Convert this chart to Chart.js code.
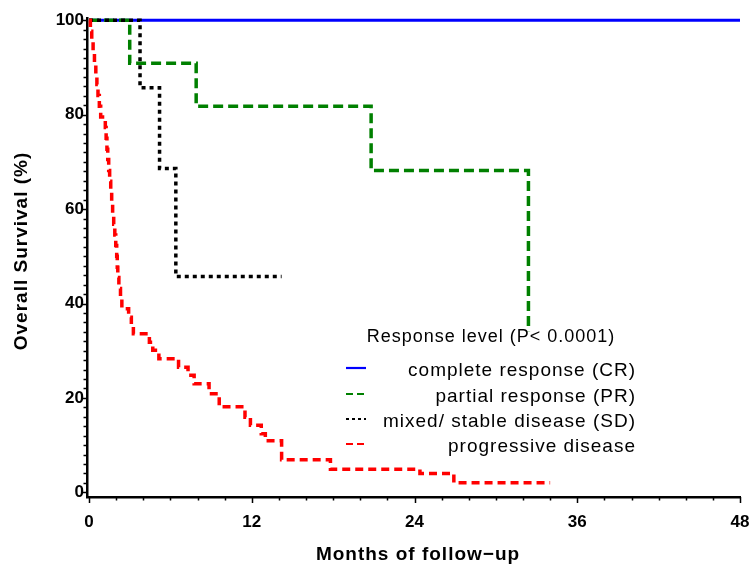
<!DOCTYPE html>
<html><head><meta charset="utf-8">
<script src="https://cdn.jsdelivr.net/npm/chart.js@4"></script>
<style>html,body{margin:0;padding:0;background:#fff;}#wrap{width:752px;height:567px;}</style>
</head><body><div id="wrap"><canvas id="c" width="752" height="567"></canvas></div>
<script>
// ---- data ----
const crTimes = [0, 48];
const crSurv  = [100, 100];
const prTimes = [0, 3.0, 7.9, 20.8, 32.4];
const prSurv  = [100, 90.9, 81.8, 68.2, 34.1];
const sdTimes = [0, 3.76, 5.2, 6.4, 14.2];
const sdSurv  = [100, 85.7, 68.6, 45.7, 45.7];
const pdTimes = [0,0.1,0.2,0.3,0.4,0.5,0.58,0.66,0.76,0.86,1.2,1.26,1.32,1.38,1.45,1.52,1.6,1.67,1.74,1.82,1.9,1.97,2.04,2.08,2.12,2.2,2.32,2.42,2.92,3.12,3.27,4.45,4.7,5.15,6.6,7.3,7.75,8.85,9.6,11.5,11.9,12.7,13.0,14.2,17.8,24.4,26.9,34.0];
const pdSurv  = [100,97.7,95.5,93.2,90.9,88.6,86.4,84.1,81.8,79.5,77.3,75.0,72.7,70.5,68.2,65.9,63.6,61.4,59.1,56.8,54.5,52.3,50.0,47.7,45.5,43.2,40.9,38.9,37.1,35.4,33.6,31.8,30.1,28.3,26.5,24.8,23.0,20.9,18.1,15.9,14.2,12.4,10.9,6.9,4.9,4.0,2.0,2.0];
const xTickValues = [0, 12, 24, 36, 48];
const yTickValues = [0, 20, 40, 60, 80, 100];
const seriesNames = ['complete response (CR)', 'partial response (PR)', 'mixed/ stable disease (SD)', 'progressive disease'];
const legendTitle = 'Response level (P< 0.0001)';
const xTitle = 'Months of follow\u2212up';
const yTitle = 'Overall Survival (%)';

const pts = (t, s) => t.map((v, i) => ({x: v, y: s[i]}));
const colors = ['#0000ff', '#008000', '#000000', '#ff0000'];
const dashes = [[], [10, 5], [4, 4], [8, 5]];
const sample = [[], [7, 4], [3, 3], [7, 4]];

const extras = {
  id: 'extras',
  afterDraw(chart) {
    const ctx = chart.ctx, xs = chart.scales.x, ys = chart.scales.y;
    ctx.save();
    ctx.strokeStyle = '#000'; ctx.lineWidth = 1.5;
    ctx.beginPath();
    for (let v = 0; v <= 48; v += 2) {
      const px = Math.round(xs.getPixelForValue(v)) + 0.5;
      const len = v % 12 === 0 ? 6 : 3.5;
      ctx.moveTo(px, xs.top); ctx.lineTo(px, xs.top + len);
    }
    for (let v = 0; v <= 100; v += 2) {
      const py = Math.round(ys.getPixelForValue(v)) + 0.5;
      const len = v % 20 === 0 ? 6 : 3.5;
      ctx.moveTo(ys.right, py); ctx.lineTo(ys.right - len, py);
    }
    ctx.stroke();
    // axis titles
    ctx.fillStyle = '#000';
    ctx.font = 'bold 19px "Liberation Sans", Arial, sans-serif';
    ctx.letterSpacing = '1px';
    ctx.textAlign = 'center'; ctx.textBaseline = 'middle';
    ctx.fillText(xTitle, 418, 555);
    ctx.save();
    ctx.translate(22, 251); ctx.rotate(-Math.PI / 2);
    ctx.fillText(yTitle, 0, 0);
    ctx.restore();
    // legend
    ctx.font = '18px "Liberation Sans", Arial, sans-serif';
    ctx.letterSpacing = '1px';
    ctx.fillText(legendTitle, 491, 337);
    ctx.font = '19px "Liberation Sans", Arial, sans-serif';
    const rowsY = [368, 394, 419, 444];
    seriesNames.forEach((name, i) => {
      const y = rowsY[i];
      ctx.save();
      ctx.strokeStyle = colors[i]; ctx.lineWidth = 2.2; ctx.setLineDash(sample[i]);
      ctx.beginPath(); ctx.moveTo(346, y); ctx.lineTo(366, y); ctx.stroke();
      ctx.restore();
      ctx.textAlign = 'right';
      ctx.fillText(name, 636, y + 3);
    });
    ctx.restore();
  }
};

const mk = (t, s, i, order) => ({
  label: seriesNames[i], data: pts(t, s), borderColor: colors[i], borderDash: dashes[i],
  borderWidth: i === 0 ? 3 : 3.5, stepped: 'before', pointRadius: 0, fill: false, order: order,
  borderCapStyle: 'butt', tension: 0
});

const tickFont = { family: '"Liberation Sans", Arial', size: 17, weight: 'bold' };

new Chart(document.getElementById('c'), {
  type: 'line',
  data: { datasets: [
    mk(crTimes, crSurv, 0, 3),
    mk(prTimes, prSurv, 1, 2),
    mk(sdTimes, sdSurv, 2, 1),
    mk(pdTimes, pdSurv, 3, 0)
  ]},
  options: {
    responsive: false, animation: false, devicePixelRatio: 1,
    layout: { padding: { left: 0, right: 0, top: 18, bottom: 0 } },
    plugins: { legend: { display: false }, tooltip: { enabled: false } },
    scales: {
      x: {
        type: 'linear', min: -0.15, max: 48,
        afterBuildTicks: s => { s.ticks = xTickValues.map(v => ({value: v})); },
        afterFit: s => { s.height = 70; s.paddingRight = 12; s.paddingLeft = 0; },
        grid: { drawOnChartArea: false, drawTicks: false },
        border: { color: '#000', width: 2.5 },
        ticks: { color: '#000', padding: 15, maxRotation: 0, autoSkip: false, font: tickFont }
      },
      y: {
        type: 'linear', min: -1, max: 100.5,
        afterBuildTicks: s => { s.ticks = yTickValues.map(v => ({value: v})); },
        afterFit: s => { s.width = 87; },
        grid: { drawOnChartArea: false, drawTicks: false },
        border: { color: '#000', width: 2.5 },
        ticks: { color: '#000', padding: 3, font: tickFont }
      }
    }
  },
  plugins: [extras]
});
</script>
</body></html>
